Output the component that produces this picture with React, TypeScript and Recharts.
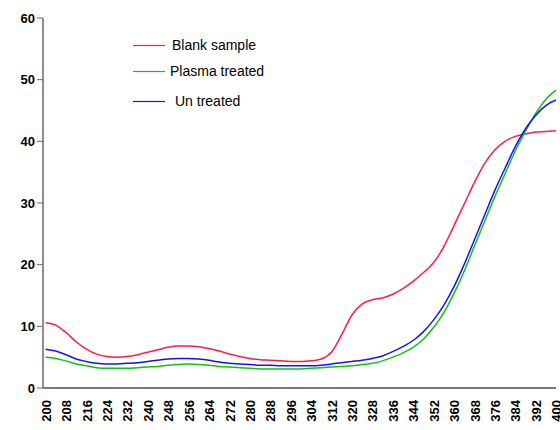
import { LineChart, Line, XAxis, YAxis } from 'recharts'

const WAVELENGTHS = [
  200, 204, 208, 212, 216, 220, 224, 228, 232, 236, 240, 244, 248, 252, 256, 260, 264,
  268, 272, 276, 280, 284, 288, 292, 296, 300, 304, 308, 312, 316, 320, 324, 328, 332,
  336, 340, 344, 348, 352, 356, 360, 364, 368, 372, 376, 380, 384, 388, 392, 396, 400,
]

const BLANK = [
  10.6, 10.2, 9.0, 7.5, 6.3, 5.5, 5.1, 5.0, 5.1, 5.4, 5.8, 6.2, 6.6, 6.8, 6.8, 6.7, 6.4,
  6.0, 5.5, 5.1, 4.8, 4.6, 4.5, 4.4, 4.3, 4.3, 4.4, 4.7, 5.8, 8.6, 11.8, 13.6, 14.3, 14.6,
  15.2, 16.1, 17.3, 18.7, 20.3, 22.9, 26.3, 29.8, 33.3, 36.4, 38.6, 40.0, 40.8, 41.2, 41.5,
  41.6, 41.7,
]

const PLASMA = [
  5.0, 4.8, 4.4, 3.9, 3.6, 3.3, 3.2, 3.2, 3.2, 3.3, 3.4, 3.5, 3.7, 3.8, 3.9, 3.8, 3.7,
  3.5, 3.4, 3.3, 3.2, 3.1, 3.1, 3.1, 3.1, 3.1, 3.2, 3.3, 3.4, 3.5, 3.6, 3.8, 4.0, 4.4,
  5.0, 5.7, 6.6, 7.9, 9.8, 12.2, 15.3, 18.9, 23.0, 27.0, 31.0, 34.7, 38.4, 41.6, 44.5,
  46.8, 48.3,
]

const UNTREATED = [
  6.3, 6.0, 5.4, 4.7, 4.3, 4.0, 3.9, 3.9, 4.0, 4.1, 4.3, 4.5, 4.7, 4.8, 4.8, 4.7, 4.5,
  4.2, 4.0, 3.9, 3.8, 3.7, 3.7, 3.6, 3.6, 3.6, 3.6, 3.7, 3.9, 4.1, 4.3, 4.5, 4.8, 5.2,
  5.9, 6.7, 7.7, 9.1, 11.0, 13.4, 16.4, 20.0, 24.0, 28.0, 32.0, 35.6, 39.1, 42.0, 44.2,
  45.8, 46.7,
]

const X_TICKS = [
  200, 208, 216, 224, 232, 240, 248, 256, 264, 272, 280, 288, 296, 304, 312, 320, 328,
  336, 344, 352, 360, 368, 376, 384, 392, 400,
]
const Y_TICKS = [0, 10, 20, 30, 40, 50, 60]

const SERIES = [
  { key: 'blank', name: 'Blank sample', color: '#ff1a4a' },
  { key: 'plasma', name: 'Plasma treated', color: '#11c011' },
  { key: 'untreated', name: 'Un treated', color: '#1414f0' },
]

const data = WAVELENGTHS.map((w, i) => ({
  w,
  blank: BLANK[i],
  plasma: PLASMA[i],
  untreated: UNTREATED[i],
}))

const font = 'Arial, "Liberation Sans", sans-serif'

// legend drawn over the plot, like the original
function LegendBox() {
  const rows = [45, 71, 101]
  const textX = [172, 170, 175]
  return (
    <svg width={560} height={430} style={{ position: 'absolute', left: 0, top: 0, pointerEvents: 'none' }}>
      {SERIES.map((s, i) => (
        <g key={s.key}>
          <line x1={133} x2={165} y1={rows[i] + 0.5} y2={rows[i] + 0.5} stroke={s.color} strokeWidth={1.2} />
          <text x={textX[i]} y={rows[i] + 5} fontFamily={font} fontSize={14} fill="#000">
            {s.name}
          </text>
        </g>
      ))}
    </svg>
  )
}

export default function App() {
  return (
    <div
      style={{
        position: 'absolute',
        left: 0,
        top: 0,
        width: 560,
        height: 430,
        overflow: 'hidden',
        background: '#fff',
      }}
    >
      <LineChart
        width={560}
        height={430}
        data={data}
        margin={{ top: 18, right: 4, bottom: 0, left: 0 }}
      >
        <XAxis
          dataKey="w"
          type="number"
          domain={[199, 400]}
          ticks={X_TICKS}
          interval={0}
          tickLine={false}
          axisLine={{ stroke: '#7a7a7a', strokeWidth: 2 }}
          height={42}
          tick={{ fontSize: 13, fill: '#000', fontFamily: font, fontWeight: 600, angle: -90, textAnchor: 'end', dy: 4, dx: -4 }}
        />
        <YAxis
          type="number"
          domain={[0, 60]}
          ticks={Y_TICKS}
          width={43}
          axisLine={{ stroke: '#6a6a6a', strokeWidth: 1.5 }}
          tickLine={{ stroke: '#6a6a6a' }}
          tickSize={6}
          tick={{ fontSize: 13, fill: '#000', fontFamily: font, fontWeight: 600 }}
        />
        {SERIES.map((s) => (
          <Line
            key={s.key}
            type="monotone"
            dataKey={s.key}
            name={s.name}
            stroke={s.color}
            strokeWidth={1.5}
            dot={false}
            isAnimationActive={false}
          />
        ))}
      </LineChart>
      <LegendBox />
    </div>
  )
}
